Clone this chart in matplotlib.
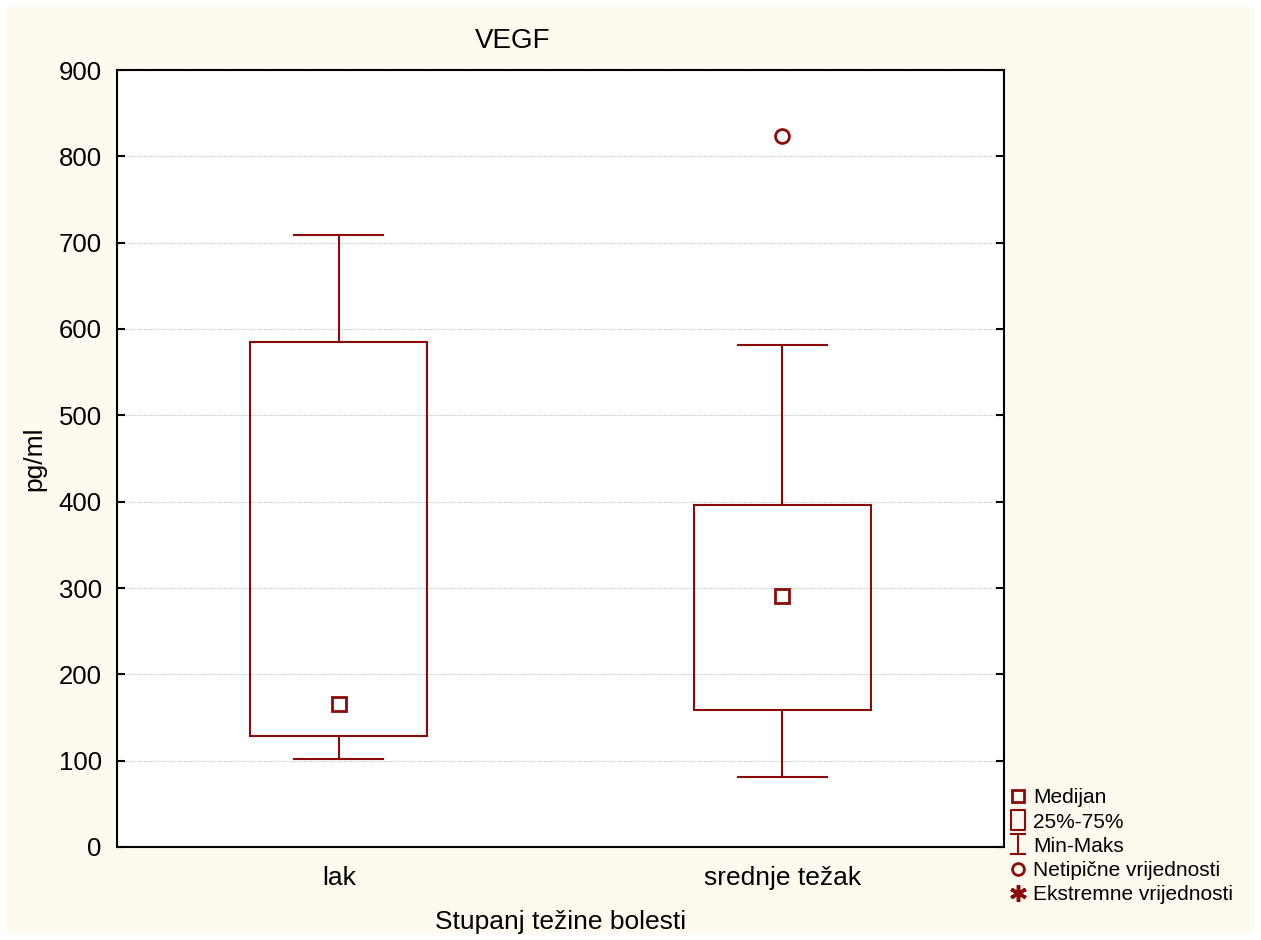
import numpy as np
import matplotlib
matplotlib.use("Agg")
from matplotlib import pyplot as plt
from matplotlib.lines import Line2D
from matplotlib.path import Path
from matplotlib.patches import Rectangle

plt.rcParams['font.family'] = ['Liberation Sans', 'DejaVu Sans']

groups = ["lak", "srednje težak"]
mins = [102, 81]
q1 = [129, 159]
medians = [166, 291]
q3 = [585, 396]
maxs = [709, 582]
outliers = [[], [824]]

col = "#8B0A0A"

fig = plt.figure(figsize=(12.61, 9.40), dpi=100, facecolor="white")
fig.patches.append(Rectangle((7 / 1261, 7 / 940), 1247 / 1261, 926 / 940,
                             transform=fig.transFigure, facecolor="#FEFAF0",
                             edgecolor="none", zorder=-10))
ax = fig.add_axes([117 / 1261, 1 - 847 / 940, 887 / 1261, 777 / 940])
ax.set_facecolor("white")

pos = np.arange(1, len(groups) + 1)
bw = 0.4
cw = 0.2
for i, p in enumerate(pos):
    ax.add_patch(Rectangle((p - bw / 2, q1[i]), bw, q3[i] - q1[i],
                           facecolor="none", edgecolor=col, lw=1.5, zorder=3))
    ax.plot([p, p], [q3[i], maxs[i]], color=col, lw=1.5, zorder=3)
    ax.plot([p, p], [q1[i], mins[i]], color=col, lw=1.5, zorder=3)
    ax.plot([p - cw / 2, p + cw / 2], [maxs[i], maxs[i]], color=col, lw=1.5, zorder=3)
    ax.plot([p - cw / 2, p + cw / 2], [mins[i], mins[i]], color=col, lw=1.5, zorder=3)
    ax.plot([p], [medians[i]], marker="s", ms=10, mfc="none", mec=col, mew=2, zorder=4)
    for o in outliers[i]:
        ax.plot([p], [o], marker="o", ms=10, mfc="none", mec=col, mew=2, zorder=4)

ax.set_xlim(0.5, 2.5)
ax.set_ylim(0, 900)
ax.set_yticks(np.arange(0, 901, 100))
ax.set_xticks(pos)
ax.set_xticklabels(groups)
ax.tick_params(axis="x", labelsize=19, length=0, pad=14)
ax.tick_params(axis="y", labelsize=18.5, direction="in", length=6, width=1.5,
               left=True, right=True, pad=11)
ax.yaxis.grid(True, linestyle=(0, (1, 1)), color="#C4C4C4", lw=0.8)
ax.set_axisbelow(True)
for s in ax.spines.values():
    s.set_linewidth(1.5)

ax.set_title("VEGF", fontsize=20, x=(513 - 117) / 887, pad=16)
ax.set_xlabel("Stupanj težine bolesti", fontsize=19, labelpad=14)
ax.set_ylabel("pg/ml", fontsize=19, labelpad=8.5)

whisk = Path([(-0.42, -0.5), (0.42, -0.5), (0, -0.5), (0, 0.5), (-0.42, 0.5), (0.42, 0.5)],
             [Path.MOVETO, Path.LINETO, Path.MOVETO, Path.LINETO, Path.MOVETO, Path.LINETO])
tall = Path([(-0.36, -0.5), (0.36, -0.5), (0.36, 0.5), (-0.36, 0.5), (-0.36, -0.5)],
            [Path.MOVETO, Path.LINETO, Path.LINETO, Path.LINETO, Path.CLOSEPOLY])
handles = [
    Line2D([], [], ls="none", marker="s", ms=8, mfc="none", mec=col, mew=2),
    Line2D([], [], ls="none", marker=tall, ms=15, mfc="none", mec=col, mew=1.5),
    Line2D([], [], ls="none", marker=whisk, ms=14.5, mfc="none", mec=col, mew=1.5),
    Line2D([], [], ls="none", marker="o", ms=8.5, mfc="none", mec=col, mew=2),
    Line2D([], [], ls="none", marker=(6, 2, 0), ms=12, mfc=col, mec=col, mew=2.5),
]
labels = ["Medijan", "25%-75%", "Min-Maks", "Netipične vrijednosti", "Ekstremne vrijednosti"]
fig.legend(handles, labels, loc="upper left", bbox_to_anchor=(1001 / 1261, 1 - 780 / 940),
           frameon=False, fontsize=15, handlelength=0.8, handletextpad=0.35,
           labelspacing=0.25, borderaxespad=0)

fig.savefig("out.png", dpi=100, facecolor="white")
